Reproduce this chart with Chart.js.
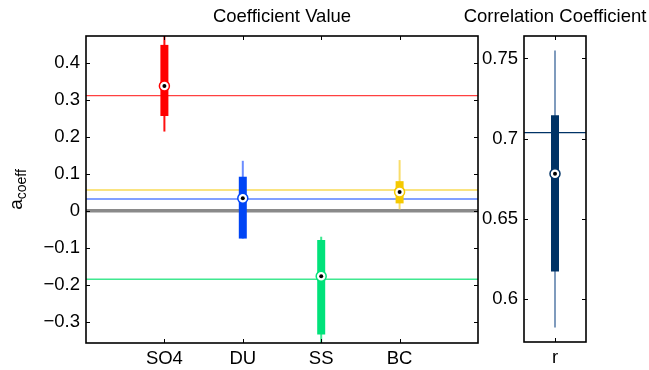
<!DOCTYPE html>
<html>
<head>
<meta charset="utf-8">
<script src="https://cdn.jsdelivr.net/npm/chart.js@4.4.1/dist/chart.umd.min.js"></script>
<style>
  html, body { margin: 0; padding: 0; background: #fff; }
  #wrap { position: relative; width: 649px; height: 370px; }
  #wrap canvas { position: absolute; left: 0; top: 0; }
</style>
</head>
<body>
<div id="wrap">
  <canvas id="coeff" width="649" height="370"></canvas>
  <canvas id="corr" width="649" height="370"></canvas>
</div>
<script>
// coefficient panel
const categories = ['SO4', 'DU', 'SS', 'BC'];
const whiskerLow = [0.214, -0.075, -0.37, 0.004];
const boxLow = [0.256, -0.075, -0.334, 0.020];
const medians = [0.337, 0.034, -0.177, 0.051];
const boxHigh = [0.448, 0.092, -0.079, 0.080];
const whiskerHigh = [0.49, 0.135, -0.070, 0.137];
const refLines = [0.311, 0.032, -0.185, 0.056];
const coeffTicks = [-0.3, -0.2, -0.1, 0, 0.1, 0.2, 0.3, 0.4];

// correlation panel
const corrLabels = ['r'];
const corrWhiskerLow = [0.582];
const corrBoxLow = [0.617];
const corrMedian = [0.678];
const corrBoxHigh = [0.7145];
const corrWhiskerHigh = [0.755];
const corrRef = [0.7037];
const corrTicks = [0.6, 0.65, 0.7, 0.75];

const boxColors = ['#ff0000', '#0045f5', '#00e27a', '#f5c900'];
const whiskerColors = ['#ff1010', '#6b8dff', '#3de890', '#f9dd6a'];
const lineColors = ['#ff4040', '#5a80ff', '#40e890', '#f8da55'];

const FONT = "'Liberation Sans', Arial, Helvetica, sans-serif";
const TICK_SIZE = 18.5;

function fmt(v) {
  if (Math.abs(v) < 1e-9) return '0';
  return String(Math.round(v * 100) / 100).replace('-', '\u2212');
}

// frame, inward ticks, title and y label
const framePlugin = {
  id: 'frame',
  afterDraw(chart, args, opts) {
    const ctx = chart.ctx;
    const a = chart.chartArea;
    const xs = chart.scales.x, ys = chart.scales.y;
    ctx.save();
    ctx.strokeStyle = '#000';
    ctx.lineWidth = 1;
    ys.ticks.forEach(t => {
      const p = Math.round(ys.getPixelForValue(t.value)) + 0.5;
      ctx.beginPath();
      ctx.moveTo(a.left, p); ctx.lineTo(a.left + 4, p);
      ctx.moveTo(a.right, p); ctx.lineTo(a.right - 4, p);
      ctx.stroke();
    });
    xs.ticks.forEach(t => {
      const p = Math.round(xs.getPixelForValue(t.value)) + 0.5;
      ctx.beginPath();
      ctx.moveTo(p, a.top); ctx.lineTo(p, a.top + 4);
      ctx.moveTo(p, a.bottom); ctx.lineTo(p, a.bottom - 4);
      ctx.stroke();
    });
    ctx.lineWidth = 1.6;
    ctx.strokeRect(a.left, a.top, a.right - a.left, a.bottom - a.top);

    ctx.fillStyle = '#000';
    ctx.font = '18.5px ' + FONT;
    ctx.textAlign = 'center';
    ctx.textBaseline = 'middle';
    ctx.fillText(opts.title, (a.left + a.right) / 2, 17);

    if (opts.yLabel) {
      ctx.translate(22, (a.top + a.bottom) / 2);
      ctx.rotate(-Math.PI / 2);
      ctx.textBaseline = 'alphabetic';
      ctx.textAlign = 'left';
      ctx.font = '19px ' + FONT;
      const wa = ctx.measureText('a').width;
      ctx.font = '14px ' + FONT;
      const ws = ctx.measureText('coeff').width;
      const x0 = -(wa + ws) / 2;
      ctx.font = '19px ' + FONT;
      ctx.fillText('a', x0, 0);
      ctx.font = '14px ' + FONT;
      ctx.fillText('coeff', x0 + wa, 4);
    }
    ctx.restore();
  }
};

function boxDatasets(pos, lo, q1, med, q3, hi, ref, box, whisk, line) {
  const sets = [];
  pos.forEach((x, i) => {
    sets.push({ data: [{ x: x, y: med[i] }], showLine: false, pointRadius: 2, pointBackgroundColor: '#000', pointBorderWidth: 0, order: 0 });
    sets.push({ data: [{ x: x, y: med[i] }], showLine: false, pointRadius: 5, pointBackgroundColor: '#fff', pointBorderColor: box[i], pointBorderWidth: 1.5, order: 1 });
    sets.push({ data: [{ x: x, y: q1[i] }, { x: x, y: q3[i] }], borderColor: box[i], borderWidth: 8, borderCapStyle: 'butt', pointRadius: 0, clip: 0, order: 2 });
    sets.push({ data: [{ x: x, y: lo[i] }, { x: x, y: hi[i] }], borderColor: whisk[i], borderWidth: 2, borderCapStyle: 'butt', pointRadius: 0, clip: 0, order: 3 });
    sets.push({ data: [{ x: 0, y: ref[i] }, { x: pos.length + 1, y: ref[i] }], borderColor: line[i], borderWidth: 1.4, pointRadius: 0, clip: 0, order: 4 });
  });
  return sets;
}

function panelOptions(cfg) {
  return {
    responsive: false,
    animation: false,
    layout: { padding: cfg.padding },
    plugins: { legend: { display: false }, tooltip: { enabled: false }, frame: cfg.frame },
    scales: {
      x: {
        type: 'linear', min: 0, max: cfg.labels.length + 1,
        grid: { display: false, drawTicks: false }, border: { display: false },
        afterBuildTicks: s => { s.ticks = cfg.labels.map((c, i) => ({ value: i + 1 })); },
        afterFit: s => { s.height = cfg.xHeight; },
        ticks: { color: '#000', padding: 5, maxRotation: 0, font: { size: TICK_SIZE, family: FONT },
          callback: v => cfg.labels[v - 1] }
      },
      y: {
        min: cfg.yMin, max: cfg.yMax,
        grid: { display: false, drawTicks: false }, border: { display: false },
        afterBuildTicks: s => { s.ticks = cfg.ticks.map(v => ({ value: v })); },
        afterFit: s => { s.width = cfg.yWidth; },
        ticks: { color: '#000', padding: 6, font: { size: TICK_SIZE, family: FONT }, callback: v => fmt(v) }
      }
    }
  };
}

const xPos = categories.map((c, i) => i + 1);
const coeffSets = boxDatasets(xPos, whiskerLow, boxLow, medians, boxHigh, whiskerHigh, refLines, boxColors, whiskerColors, lineColors);
// zero line
coeffSets.push({ data: [{ x: 0, y: 0 }, { x: categories.length + 1, y: 0 }], borderColor: '#8a8a8a', borderWidth: 3.5, pointRadius: 0, clip: 0, order: 5 });

new Chart(document.getElementById('coeff'), {
  type: 'line',
  data: { datasets: coeffSets },
  options: panelOptions({
    labels: categories, ticks: coeffTicks, yMin: -0.357, yMax: 0.472,
    padding: { left: 0, right: 171, top: 36, bottom: 0 }, yWidth: 86, xHeight: 27,
    frame: { title: 'Coefficient Value', yLabel: true }
  }),
  plugins: [framePlugin]
});

const corrSets = boxDatasets([1], corrWhiskerLow, corrBoxLow, corrMedian, corrBoxHigh, corrWhiskerHigh, corrRef, ['#003366'], ['#7f9bbd'], ['#003366']);

new Chart(document.getElementById('corr'), {
  type: 'line',
  data: { datasets: corrSets },
  options: panelOptions({
    labels: corrLabels, ticks: corrTicks, yMin: 0.573, yMax: 0.764,
    padding: { left: 470, right: 63, top: 36, bottom: 0 }, yWidth: 54, xHeight: 28,
    frame: { title: 'Correlation Coefficient', yLabel: false }
  }),
  plugins: [framePlugin]
});
</script>
</body>
</html>
